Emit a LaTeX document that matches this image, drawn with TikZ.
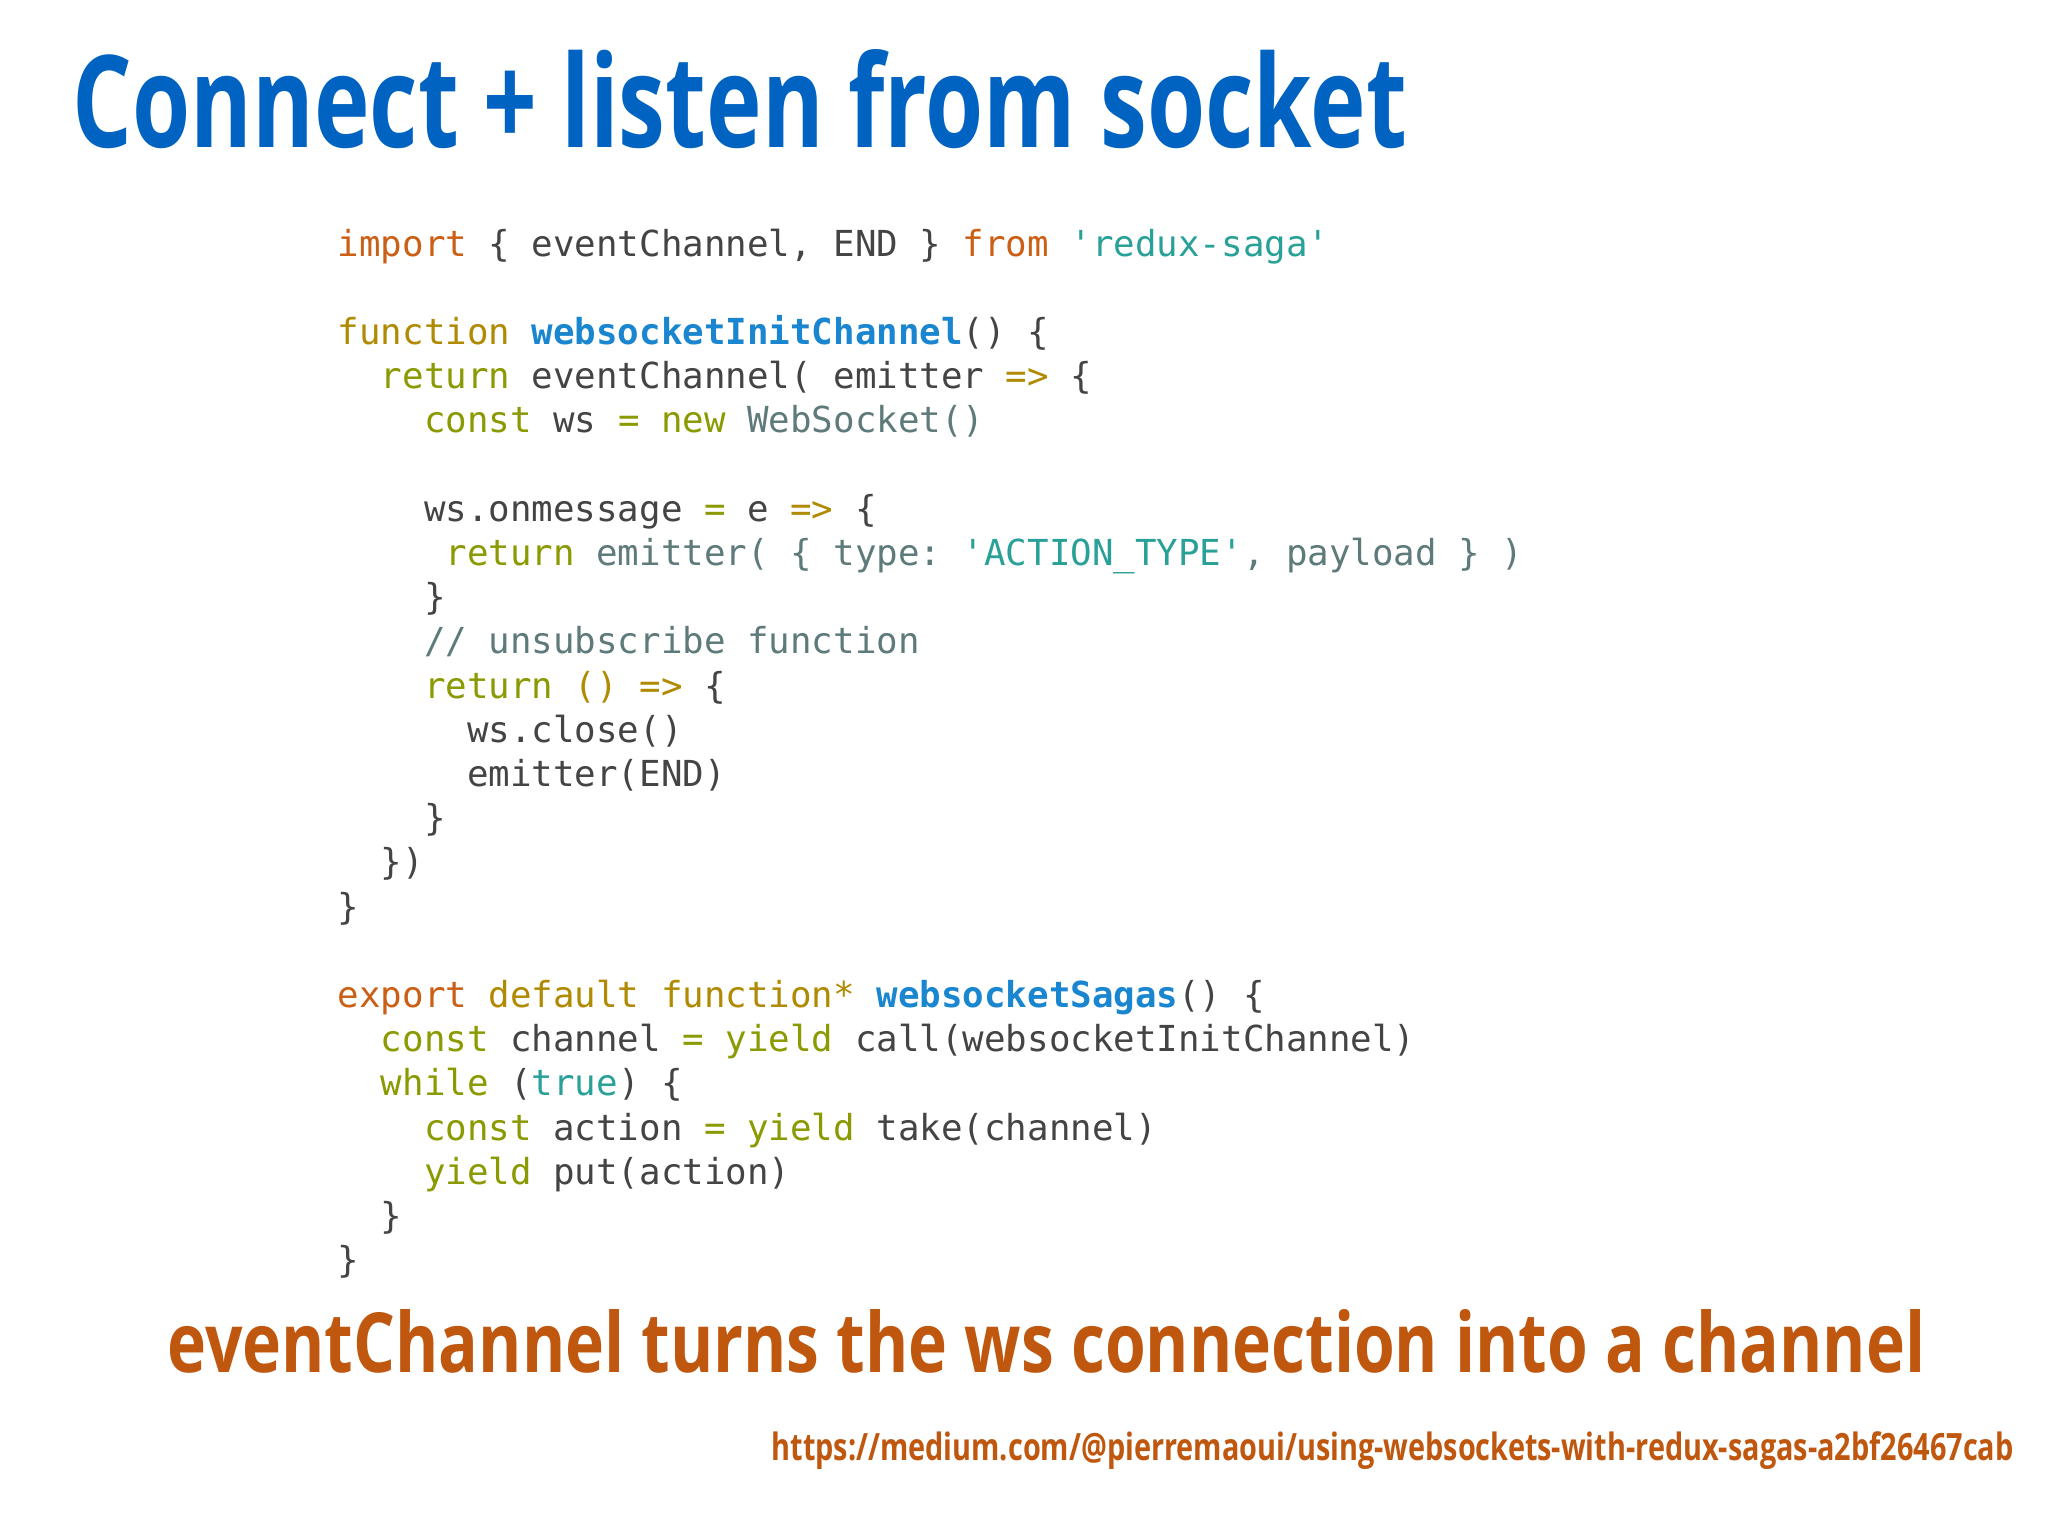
\documentclass[tikz,border=0pt]{standalone}
\usepackage{fontspec}
\usepackage{graphicx}
\usepackage{xcolor}
\setmonofont{DejaVu Sans Mono}
\newfontfamily\cond{Open Sans}
\definecolor{ttl}{HTML}{0063C1}
\definecolor{sub}{HTML}{C0570F}
\definecolor{kor}{HTML}{CB5F16}
\definecolor{kye}{HTML}{B08A00}
\definecolor{kgr}{HTML}{8A9A00}
\definecolor{kcy}{HTML}{2AA198}
\definecolor{kbl}{HTML}{1A86D0}
\definecolor{kbase}{HTML}{444444}
\definecolor{kgy}{HTML}{5E7A7A}
\newcommand{\Or}[1]{\textcolor{kor}{#1}}
\newcommand{\Ye}[1]{\textcolor{kye}{#1}}
\newcommand{\Gr}[1]{\textcolor{kgr}{#1}}
\newcommand{\Cy}[1]{\textcolor{kcy}{#1}}
\newcommand{\Bl}[1]{\textcolor{kbl}{\bfseries #1}}
\newcommand{\Gy}[1]{\textcolor{kgy}{#1}}
\begin{document}
\begin{tikzpicture}[x=1pt,y=-1pt,
  code/.style={anchor=base west,inner sep=0pt,font=\ttfamily\fontsize{17.9}{20}\selectfont,text=kbase}]
\useasboundingbox[fill=white] (0,0) rectangle (1024,768);
\node[anchor=base west,inner sep=0pt,text=ttl] (title) at (36,74)
  {\resizebox{667pt}{49pt}{\cond\bfseries Connect + listen from socket}};
\def\L#1#2{\node[code] (l#1) at (168.7,{128+#1*22.1}) {\obeyspaces#2};}
\L{0}{\Or{import} \{ eventChannel, END \} \Or{from} \Cy{'redux-saga'}}
\L{2}{\Ye{function} \Bl{websocketInitChannel}() \{}
\L{3}{\ \ \Gr{return} eventChannel( emitter \Ye{=>} \{}
\L{4}{\ \ \ \ \Gr{const} ws \Gr{=} \Gr{new} \Gy{WebSocket()}}
\L{6}{\ \ \ \ ws.onmessage \Gr{=} e \Ye{=>} \{}
\L{7}{\ \ \ \ \ \Gr{return} \Gy{emitter( \{ type: }\Cy{'ACTION\_TYPE'}\Gy{, payload \} )}}
\L{8}{\ \ \ \ \}}
\L{9}{\ \ \ \ \Gy{// unsubscribe function}}
\L{10}{\ \ \ \ \Gr{return} \Ye{()} \Ye{=>} \{}
\L{11}{\ \ \ \ \ \ ws.close()}
\L{12}{\ \ \ \ \ \ emitter(END)}
\L{13}{\ \ \ \ \}}
\L{14}{\ \ \})}
\L{15}{\}}
\L{17}{\Or{export} \Ye{default} \Ye{function*} \Bl{websocketSagas}() \{}
\L{18}{\ \ \Gr{const} channel \Gr{=} \Gr{yield} call(websocketInitChannel)}
\L{19}{\ \ \Gr{while} (\Cy{true}) \{}
\L{20}{\ \ \ \ \Gr{const} action \Gr{=} \Gr{yield} take(channel)}
\L{21}{\ \ \ \ \Gr{yield} put(action)}
\L{22}{\ \ \}}
\L{23}{\}}
\node[anchor=base west,inner sep=0pt,text=sub] (subt) at (83.5,686)
  {\resizebox{879pt}{31.5pt}{\cond\bfseries eventChannel turns the ws connection into a channel}};
\node[anchor=base east,inner sep=0pt,text=sub] (url) at (1007,730)
  {\resizebox{621pt}{14.4pt}{\cond\bfseries https://medium.com/@pierremaoui/using-websockets-with-redux-sagas-a2bf26467cab}};
\end{tikzpicture}
\end{document}
